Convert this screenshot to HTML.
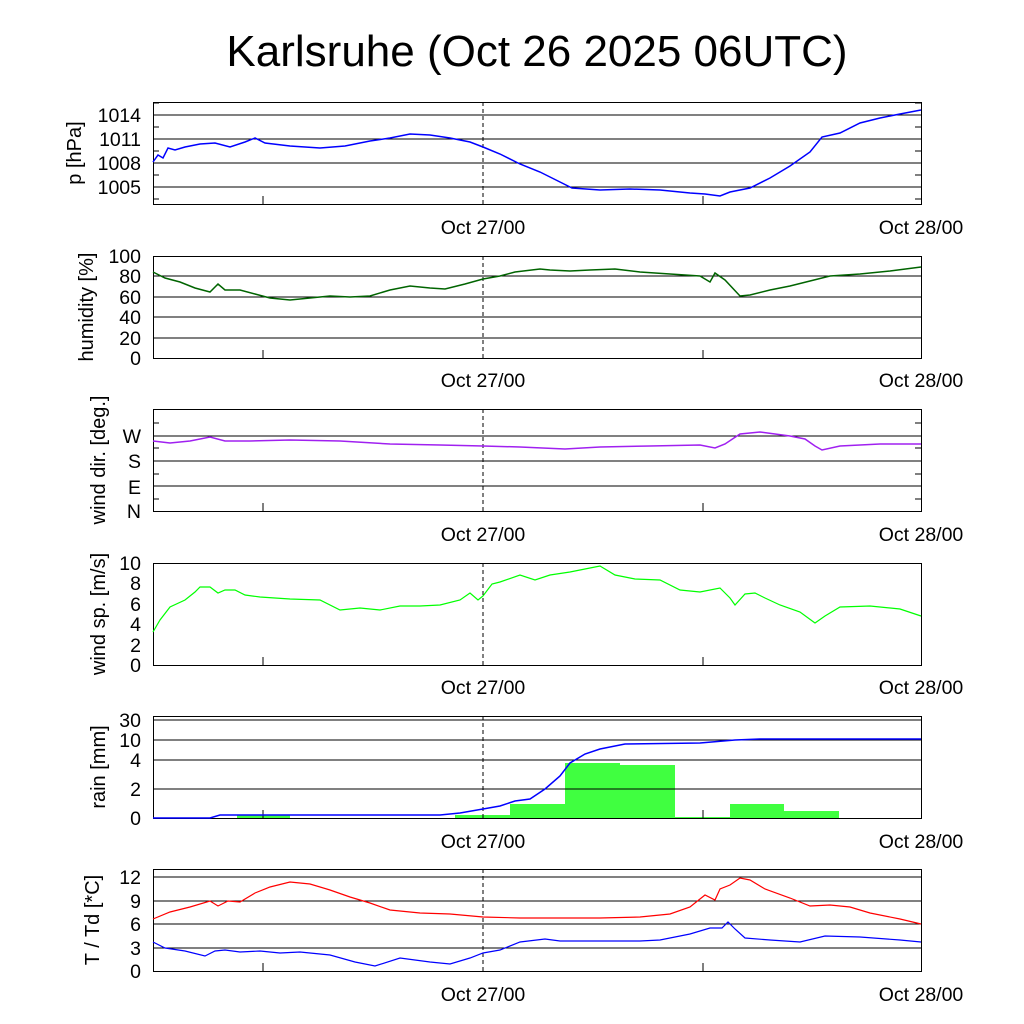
<!DOCTYPE html><html><head><style>body{margin:0;background:#fff}svg{display:block}text{font-family:"Liberation Sans",sans-serif;fill:#000}</style></head><body>
<svg width="1024" height="1024" viewBox="0 0 1024 1024" xmlns="http://www.w3.org/2000/svg">
<text x="537" y="66" font-size="44" text-anchor="middle">Karlsruhe (Oct 26 2025 06UTC)</text>
<g font-size="19.5" text-anchor="end">
<text x="141" y="122">1014</text><text x="141" y="146">1011</text><text x="141" y="170">1008</text><text x="141" y="194">1005</text>
<text x="141" y="263">100</text><text x="141" y="283">80</text><text x="141" y="304">60</text><text x="141" y="324">40</text><text x="141" y="345">20</text><text x="141" y="365">0</text>
<text x="141" y="443">W</text><text x="141" y="468">S</text><text x="141" y="494">E</text><text x="141" y="518">N</text>
<text x="141" y="570">10</text><text x="141" y="590">8</text><text x="141" y="611">6</text><text x="141" y="631">4</text><text x="141" y="652">2</text><text x="141" y="672">0</text>
<text x="141" y="727">30</text><text x="141" y="747">10</text><text x="141" y="767">4</text><text x="141" y="796">2</text><text x="141" y="825">0</text>
<text x="141" y="884">12</text><text x="141" y="908">9</text><text x="141" y="931">6</text><text x="141" y="955">3</text><text x="141" y="978">0</text>
</g>
<g font-size="20" text-anchor="middle">
<text transform="translate(81,153) rotate(-90)">p [hPa]</text>
<text transform="translate(93,307) rotate(-90)">humidity [%]</text>
<text transform="translate(105,460) rotate(-90)">wind dir. [deg.]</text>
<text transform="translate(105,614) rotate(-90)">wind sp. [m/s]</text>
<text transform="translate(105,767) rotate(-90)">rain [mm]</text>
<text transform="translate(99,920) rotate(-90)">T / Td [*C]</text>
</g>
<g font-size="19.5" text-anchor="middle">
<text x="483" y="234">Oct 27/00</text><text x="921" y="234">Oct 28/00</text>
<text x="483" y="387">Oct 27/00</text><text x="921" y="387">Oct 28/00</text>
<text x="483" y="541">Oct 27/00</text><text x="921" y="541">Oct 28/00</text>
<text x="483" y="694">Oct 27/00</text><text x="921" y="694">Oct 28/00</text>
<text x="483" y="848">Oct 27/00</text><text x="921" y="848">Oct 28/00</text>
<text x="483" y="1001">Oct 27/00</text><text x="921" y="1001">Oct 28/00</text>
</g>
<g fill="#40ff40">
<rect x="237" y="815" width="53" height="3"/><rect x="455" y="815" width="55" height="3"/><rect x="510" y="804" width="55" height="14"/><rect x="565" y="763" width="55" height="55"/><rect x="620" y="765" width="55" height="53"/><rect x="675" y="817" width="55" height="1"/><rect x="730" y="804" width="54" height="14"/><rect x="784" y="811" width="55" height="7"/>
</g>
<g stroke="#000" stroke-width="1" fill="none">
<path d="M153 115H921M153 139H921M153 163H921M153 187H921"/>
<path d="M153 276H921M153 297H921M153 317H921M153 338H921"/>
<path d="M153 436H921M153 461H921M153 486H921"/>
<path d="M153 720H921M153 740H921M153 760H921M153 789H921"/>
<path d="M153 877H921M153 901H921M153 924H921M153 948H921"/>
</g>
<g stroke="#000" stroke-dasharray="4,3" fill="none">
<path d="M483 102V204M483 256V358M483 409V511M483 563V665M483 716V818M483 869V971"/>
</g>
<g stroke="#000" fill="none">
<path d="M263 204v-8M703 204v-8M263 358v-8M703 358v-8M263 511v-8M703 511v-8M263 665v-8M703 665v-8M263 818v-8M703 818v-8M263 971v-8M703 971v-8"/>
<path d="M153 103h6M153 127h6M153 151h6M153 175h6M153 199h6M915 103h6M915 127h6M915 151h6M915 175h6M915 199h6M153 423h6M153 448h6M153 474h6M153 499h6M915 423h6M915 448h6M915 474h6M915 499h6"/>
<rect x="153.5" y="102.5" width="768" height="102"/>
<rect x="153.5" y="256.5" width="768" height="102"/>
<rect x="153.5" y="409.5" width="768" height="102"/>
<rect x="153.5" y="563.5" width="768" height="102"/>
<rect x="153.5" y="716.5" width="768" height="102"/>
<rect x="153.5" y="869.5" width="768" height="102"/>
</g>
<g fill="none" stroke-width="1.5">
<polyline stroke="#0000ff" points="153,162 158,155 163,158 168,148 175,150 185,147 200,144 215,143 230,147 245,142 255,138 265,143 290,146 320,148 345,146 370,141 390,138 410,134 430,135 450,138 470,142 483,147 500,154 520,164 540,172 560,182 572,188 600,190 630,189 660,190 690,193 705,194 720,196 730,192 750,188 770,178 790,166 810,152 822,137 840,133 860,123 880,118 900,114 921,110"/>
<polyline stroke="#006400" points="153,272 165,278 180,282 195,288 210,292 218,284 225,290 240,290 255,294 270,298 290,300 310,298 330,296 350,297 370,296 390,290 410,286 430,288 445,289 465,284 483,279 500,276 515,272 540,269 550,270 570,271 590,270 615,269 640,272 670,274 700,276 710,282 715,273 725,280 740,296 750,295 770,290 790,286 810,281 830,276 860,274 890,271 921,267"/>
<polyline stroke="#a020f0" points="153,441 170,443 190,441 210,437 225,441 250,441 290,440 340,441 390,444 440,445 483,446 520,447 565,449 600,447 650,446 700,445 715,448 725,444 740,434 760,432 790,436 805,439 815,446 822,450 840,446 880,444 921,444"/>
<polyline stroke="#00ff00" stroke-width="1.2" points="153,632 160,620 170,607 185,600 195,592 200,587 210,587 218,593 225,590 235,590 245,595 260,597 290,599 320,600 340,610 360,608 380,610 400,606 420,606 440,605 460,600 470,593 478,600 483,596 492,584 500,582 520,575 535,580 550,575 570,572 590,568 600,566 615,575 635,579 660,580 680,590 700,592 720,588 730,598 735,605 745,594 755,593 765,598 780,605 800,612 815,623 825,616 840,607 870,606 900,609 921,616"/>
<polyline stroke="#0000ff" points="153,818 210,818 220,815 300,815 440,815 460,813 483,809 500,806 515,801 530,799 545,789 560,776 570,763 585,754 600,749 625,744 700,743 735,740 760,739 921,739"/>
<polyline stroke="#ff0000" stroke-width="1.2" points="153,919 170,912 190,907 210,901 218,906 228,901 240,902 255,893 270,887 290,882 310,884 330,890 350,897 370,903 390,910 420,913 450,914 483,917 520,918 560,918 600,918 640,917 670,914 690,907 705,895 715,900 720,889 730,885 740,878 750,880 765,889 790,898 810,906 830,905 850,907 870,913 900,919 921,924"/>
<polyline stroke="#0000ff" stroke-width="1.2" points="153,942 165,948 185,951 205,956 215,951 225,950 240,952 260,951 280,953 300,952 330,955 355,962 375,966 400,958 430,962 450,964 470,958 483,953 500,950 520,942 545,939 560,941 600,941 640,941 660,940 690,934 710,928 722,928 728,922 735,929 745,938 770,940 800,942 825,936 860,937 900,940 921,942"/>
</g>
</svg></body></html>
